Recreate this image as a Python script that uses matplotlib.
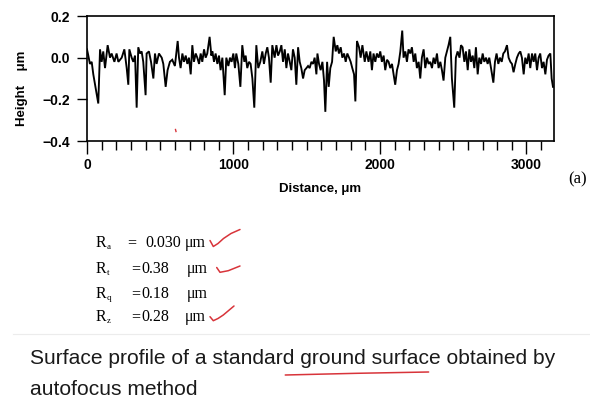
import matplotlib
matplotlib.use("Agg")
import matplotlib.pyplot as plt
from matplotlib import font_manager
from matplotlib.lines import Line2D
from matplotlib.ticker import MultipleLocator

W, H = 590, 403

# profile (distance in um, height in um)
distance = [
    0, 9, 20, 32, 43, 77, 89, 100, 111, 123, 141, 157, 168, 187, 202, 214, 237, 255, 271, 282,
    289, 305, 316, 328, 339, 350, 362, 373, 384, 400, 407, 423, 437, 453, 464, 475, 491, 510, 521, 537,
    550, 566, 582, 600, 619,
    628, 639, 651, 662, 674, 685, 696, 708, 719, 730, 742, 753, 765, 776, 787, 799, 810, 821, 837, 849,
    856, 867, 878, 890, 901, 912, 924, 940, 951, 965, 976, 987, 999, 1010, 1019, 1033, 1047, 1060, 1074, 1083,
    1094, 1106, 1117, 1129, 1142, 1156, 1169, 1183, 1197, 1208, 1220, 1231, 1242, 1254, 1265,
    1281, 1293, 1304, 1316, 1327, 1338, 1350, 1361, 1372, 1384, 1395, 1406, 1418, 1429, 1441, 1452, 1463, 1475, 1486, 1498,
    1509, 1520, 1532, 1543, 1554, 1566, 1573, 1584, 1595, 1607, 1618, 1627, 1639, 1650, 1661, 1673, 1684, 1698, 1709, 1720,
    1732, 1743, 1755, 1766, 1777, 1789, 1800, 1811, 1823, 1832, 1843, 1857, 1868, 1880, 1896, 1907,
    1922, 1934, 1945, 1956, 1968, 1979, 1991, 2002, 2013, 2025, 2036, 2048, 2059, 2070, 2082, 2093, 2104, 2116, 2127, 2139,
    2152, 2161, 2173, 2184, 2195, 2207, 2218, 2230, 2241, 2252, 2264, 2275, 2286, 2298, 2309, 2321, 2332, 2343, 2355, 2366,
    2377, 2389, 2400, 2412, 2423, 2434, 2446, 2457, 2468, 2480, 2491, 2507, 2518, 2530, 2543,
    2553, 2564, 2576, 2587, 2599, 2610, 2621, 2633, 2644, 2655, 2667, 2678, 2690, 2701, 2712, 2724, 2735, 2746, 2758, 2774,
    2785, 2796, 2808, 2819, 2831, 2842, 2853, 2867, 2878, 2890, 2901, 2912, 2924, 2935, 2947, 2958, 2969, 2981, 2992, 3003,
    3015, 3026, 3038, 3049, 3060, 3072, 3083, 3094, 3106, 3117, 3129, 3140, 3151, 3163, 3172, 3181,
]
height = [
    0.04, 0.01, -0.03, -0.02, -0.08, -0.22, 0.04, -0.02, 0.03, -0.05, 0.06, 0.0, 0.02, -0.02, 0.02, -0.02, 0.0, 0.04, -0.05, -0.13,
    0.04, 0.0, -0.02, 0.01, -0.24, 0.05, 0.02, 0.03, -0.02, -0.18, 0.02, 0.03, -0.02, -0.10, 0.02, -0.03, 0.02, 0.0, -0.03, -0.14,
    -0.06, -0.02, -0.01, -0.04, 0.08,
    0.0, -0.05, 0.02, -0.02, 0.01, -0.03, 0.0, -0.08, 0.06, -0.02, 0.02, 0.0, -0.03, 0.02, -0.02, 0.04, 0.0, 0.02, 0.10, 0.01,
    0.03, -0.02, 0.02, -0.03, 0.01, -0.06, 0.0, -0.18, 0.0, -0.04, 0.0, -0.02, 0.02, -0.05, 0.02, -0.03, -0.14, 0.06, -0.02, 0.01,
    -0.05, -0.02, -0.03, -0.10, -0.24, 0.06, -0.05, -0.02, 0.03, -0.03, 0.02, 0.05, 0.0, -0.12, 0.06,
    0.0, 0.06, 0.01, 0.03, 0.06, -0.02, 0.04, -0.05, 0.02, -0.02, -0.06, 0.04, 0.0, -0.13, 0.05, -0.02, -0.05, -0.10, -0.06, -0.05,
    -0.04, -0.05, -0.02, -0.03, 0.0, -0.08, 0.02, -0.03, -0.06, -0.02, -0.11, -0.26, -0.02, -0.14, -0.05, -0.02, 0.10, 0.03, 0.06, 0.02,
    0.05, 0.0, 0.02, -0.02, 0.02, 0.0, -0.02, -0.05, -0.08, -0.21, 0.08, 0.05, 0.0, 0.06, -0.02, 0.03,
    -0.02, 0.03, -0.06, 0.02, -0.02, 0.02, 0.0, 0.03, -0.02, 0.01, -0.06, -0.01, -0.02, -0.05, -0.03, -0.08, -0.13, -0.06, -0.03, 0.03,
    0.13, 0.0, 0.03, -0.02, 0.04, 0.02, 0.05, -0.02, 0.02, -0.05, -0.02, -0.10, 0.0, 0.04, -0.05, 0.0, -0.03, -0.02, -0.05, 0.0,
    -0.03, 0.02, -0.05, -0.02, -0.06, -0.11, 0.0, 0.03, 0.06, 0.10, -0.10, -0.24, 0.0, 0.03, 0.0,
    0.06, 0.05, -0.02, 0.03, -0.06, 0.04, -0.02, 0.01, -0.05, 0.05, -0.08, 0.0, -0.03, 0.02, -0.02, 0.0, -0.03, 0.0, -0.05, -0.12,
    -0.02, 0.02, -0.03, 0.0, -0.02, 0.02, 0.03, 0.06, 0.0, -0.02, -0.03, -0.07, -0.03, 0.0, 0.02, 0.03, 0.0, -0.08, 0.0, -0.03,
    0.02, -0.05, 0.02, -0.02, 0.02, -0.06, 0.0, 0.02, -0.05, -0.02, -0.08, -0.01, 0.01, 0.02, -0.10, -0.14,
]

x_ticks = [0, 1000, 2000, 3000]
y_ticks = [-0.4, -0.2, 0.0, 0.2]

r_subs = ['a', 't', 'q', 'z']
r_values = ['0.030', '0.38', '0.18', '0.28']
caption = ['Surface profile of a standard ground surface obtained by', 'autofocus method']
underlined = 'ground surface'

RED = '#d8343a'
TICK_FONT = dict(family='Liberation Sans', weight='bold', size=10)
LABEL_FONT = dict(family='Liberation Sans', weight='bold', size=9.5)
SERIF = 'Liberation Serif'


def px(x, y):
    # figure pixel (top-left origin) -> figure fraction
    return x / W, 1 - y / H


def fig_line(fig, pts, **kw):
    xs = [px(x, y)[0] for x, y in pts]
    ys = [px(x, y)[1] for x, y in pts]
    fig.add_artist(Line2D(xs, ys, transform=fig.transFigure, **kw))


fig = plt.figure(figsize=(W / 100, H / 100), dpi=100)
fig.patch.set_facecolor('white')

ax = fig.add_axes([87 / W, 1 - 141 / H, (554 - 87) / W, (141 - 16) / H])
ax.plot(distance, height, color='black', lw=1.35, solid_joinstyle='miter')
ax.set_xlim(0, 3188)
ax.set_ylim(-0.4, 0.2)
ax.set_xticks(x_ticks)
ax.set_xticklabels([str(v) for v in x_ticks], fontdict=TICK_FONT)
ax.xaxis.set_minor_locator(MultipleLocator(100))
ax.set_yticks(y_ticks)
ax.set_yticklabels([f'{v:.1f}'.replace('-', '\u2212') for v in y_ticks], fontdict=TICK_FONT)
ax.tick_params(axis='x', which='major', direction='out', length=9.5, width=1.0, pad=3)
ax.tick_params(axis='x', which='minor', direction='out', length=6.5, width=1.0)
ax.tick_params(axis='y', direction='out', length=7, width=1.0, pad=5)
for s in ax.spines.values():
    s.set_linewidth(1.2)

fig.text(*px(22, 88), 'Height    \u03bcm', rotation=90, ha='center', va='center', **LABEL_FONT)
fig.text(*px(320, 189), 'Distance, \u03bcm', ha='center', va='center', **LABEL_FONT)
fig.text(*px(578, 179), '(a)', ha='center', va='center', family=SERIF, size=12)

# tiny red mark on the scan
fig_line(fig, [(175.5, 129.5), (176, 131.5)], color=RED, lw=1.0)

# roughness values
rows_y = [243, 269, 294, 317]
eq_x = [127, 131, 131, 131]
val_x = [145, 141, 141, 141]
unit_x = [185, 187, 187, 185]
for i, sub in enumerate(r_subs):
    y = rows_y[i]
    fig.text(*px(96, y), 'R', ha='left', va='center', family=SERIF, size=11.5)
    fig.text(*px(106.5, y + 4), sub, ha='left', va='center', family=SERIF, size=6.5)
    fig.text(*px(eq_x[i], y), '=', ha='left', va='center', family=SERIF, size=11.5)
    fig.text(*px(val_x[i], y), r_values[i], ha='left', va='center', family=SERIF, size=11.5)
    fig.text(*px(unit_x[i], y), '\u03bcm', ha='left', va='center', family=SERIF, size=11.5)

# red ticks drawn on the slide
check_kw = dict(color=RED, lw=1.1, solid_capstyle='round', solid_joinstyle='round')
fig_line(fig, [(210, 240.5), (213.3, 246.5), (218, 243.5), (223.5, 238.5), (231, 233.5), (240, 229.5)], **check_kw)
fig_line(fig, [(216.7, 267.5), (220, 272.3), (228.3, 270.7), (240, 266)], **check_kw)
fig_line(fig, [(210, 316.7), (213.3, 320.7), (218, 318.5), (223.3, 315), (234, 306)], **check_kw)

# faint slide separator
fig_line(fig, [(13, 334), (590, 334)], color='#ececec', lw=0.8)

# caption
names = {f.name for f in font_manager.fontManager.ttflist}
cap_family = 'Liberation Sans Narrow' if 'Liberation Sans Narrow' in names else 'Liberation Sans'
cap_size = 18 if cap_family.endswith('Narrow') else 15
base1, base2 = 364, 395
t1 = fig.text(*px(30, base1), caption[0], ha='left', va='baseline', family=cap_family, size=cap_size, color='#1a1a1a')
t2 = fig.text(*px(30, base2), caption[1], ha='left', va='baseline', family=cap_family, size=cap_size, color='#1a1a1a')

fig.canvas.draw()
rend = fig.canvas.get_renderer()
scale = (554 - 30) / t1.get_window_extent(rend).width
cap_size *= scale
t1.set_fontsize(cap_size)
t2.set_fontsize(cap_size)

# locate the underlined words in the rendered caption
head = caption[0][:caption[0].index(underlined) + len(underlined)]
tmp = fig.text(*px(30, base1), head, ha='left', va='baseline', family=cap_family, size=cap_size)
tmp2 = fig.text(*px(30, base1), underlined, ha='left', va='baseline', family=cap_family, size=cap_size)
fig.canvas.draw()
end_x = tmp.get_window_extent(rend).x1
start_x = end_x - tmp2.get_window_extent(rend).width
tmp.remove()
tmp2.remove()
u0, u1 = start_x - 15, end_x - 12
fig_line(fig, [(u0, base1 + 11), ((u0 + u1) / 2, base1 + 9.3), (u1, base1 + 8)], color=RED, lw=1.1, solid_capstyle='round')

fig.savefig('out.png', dpi=100)
